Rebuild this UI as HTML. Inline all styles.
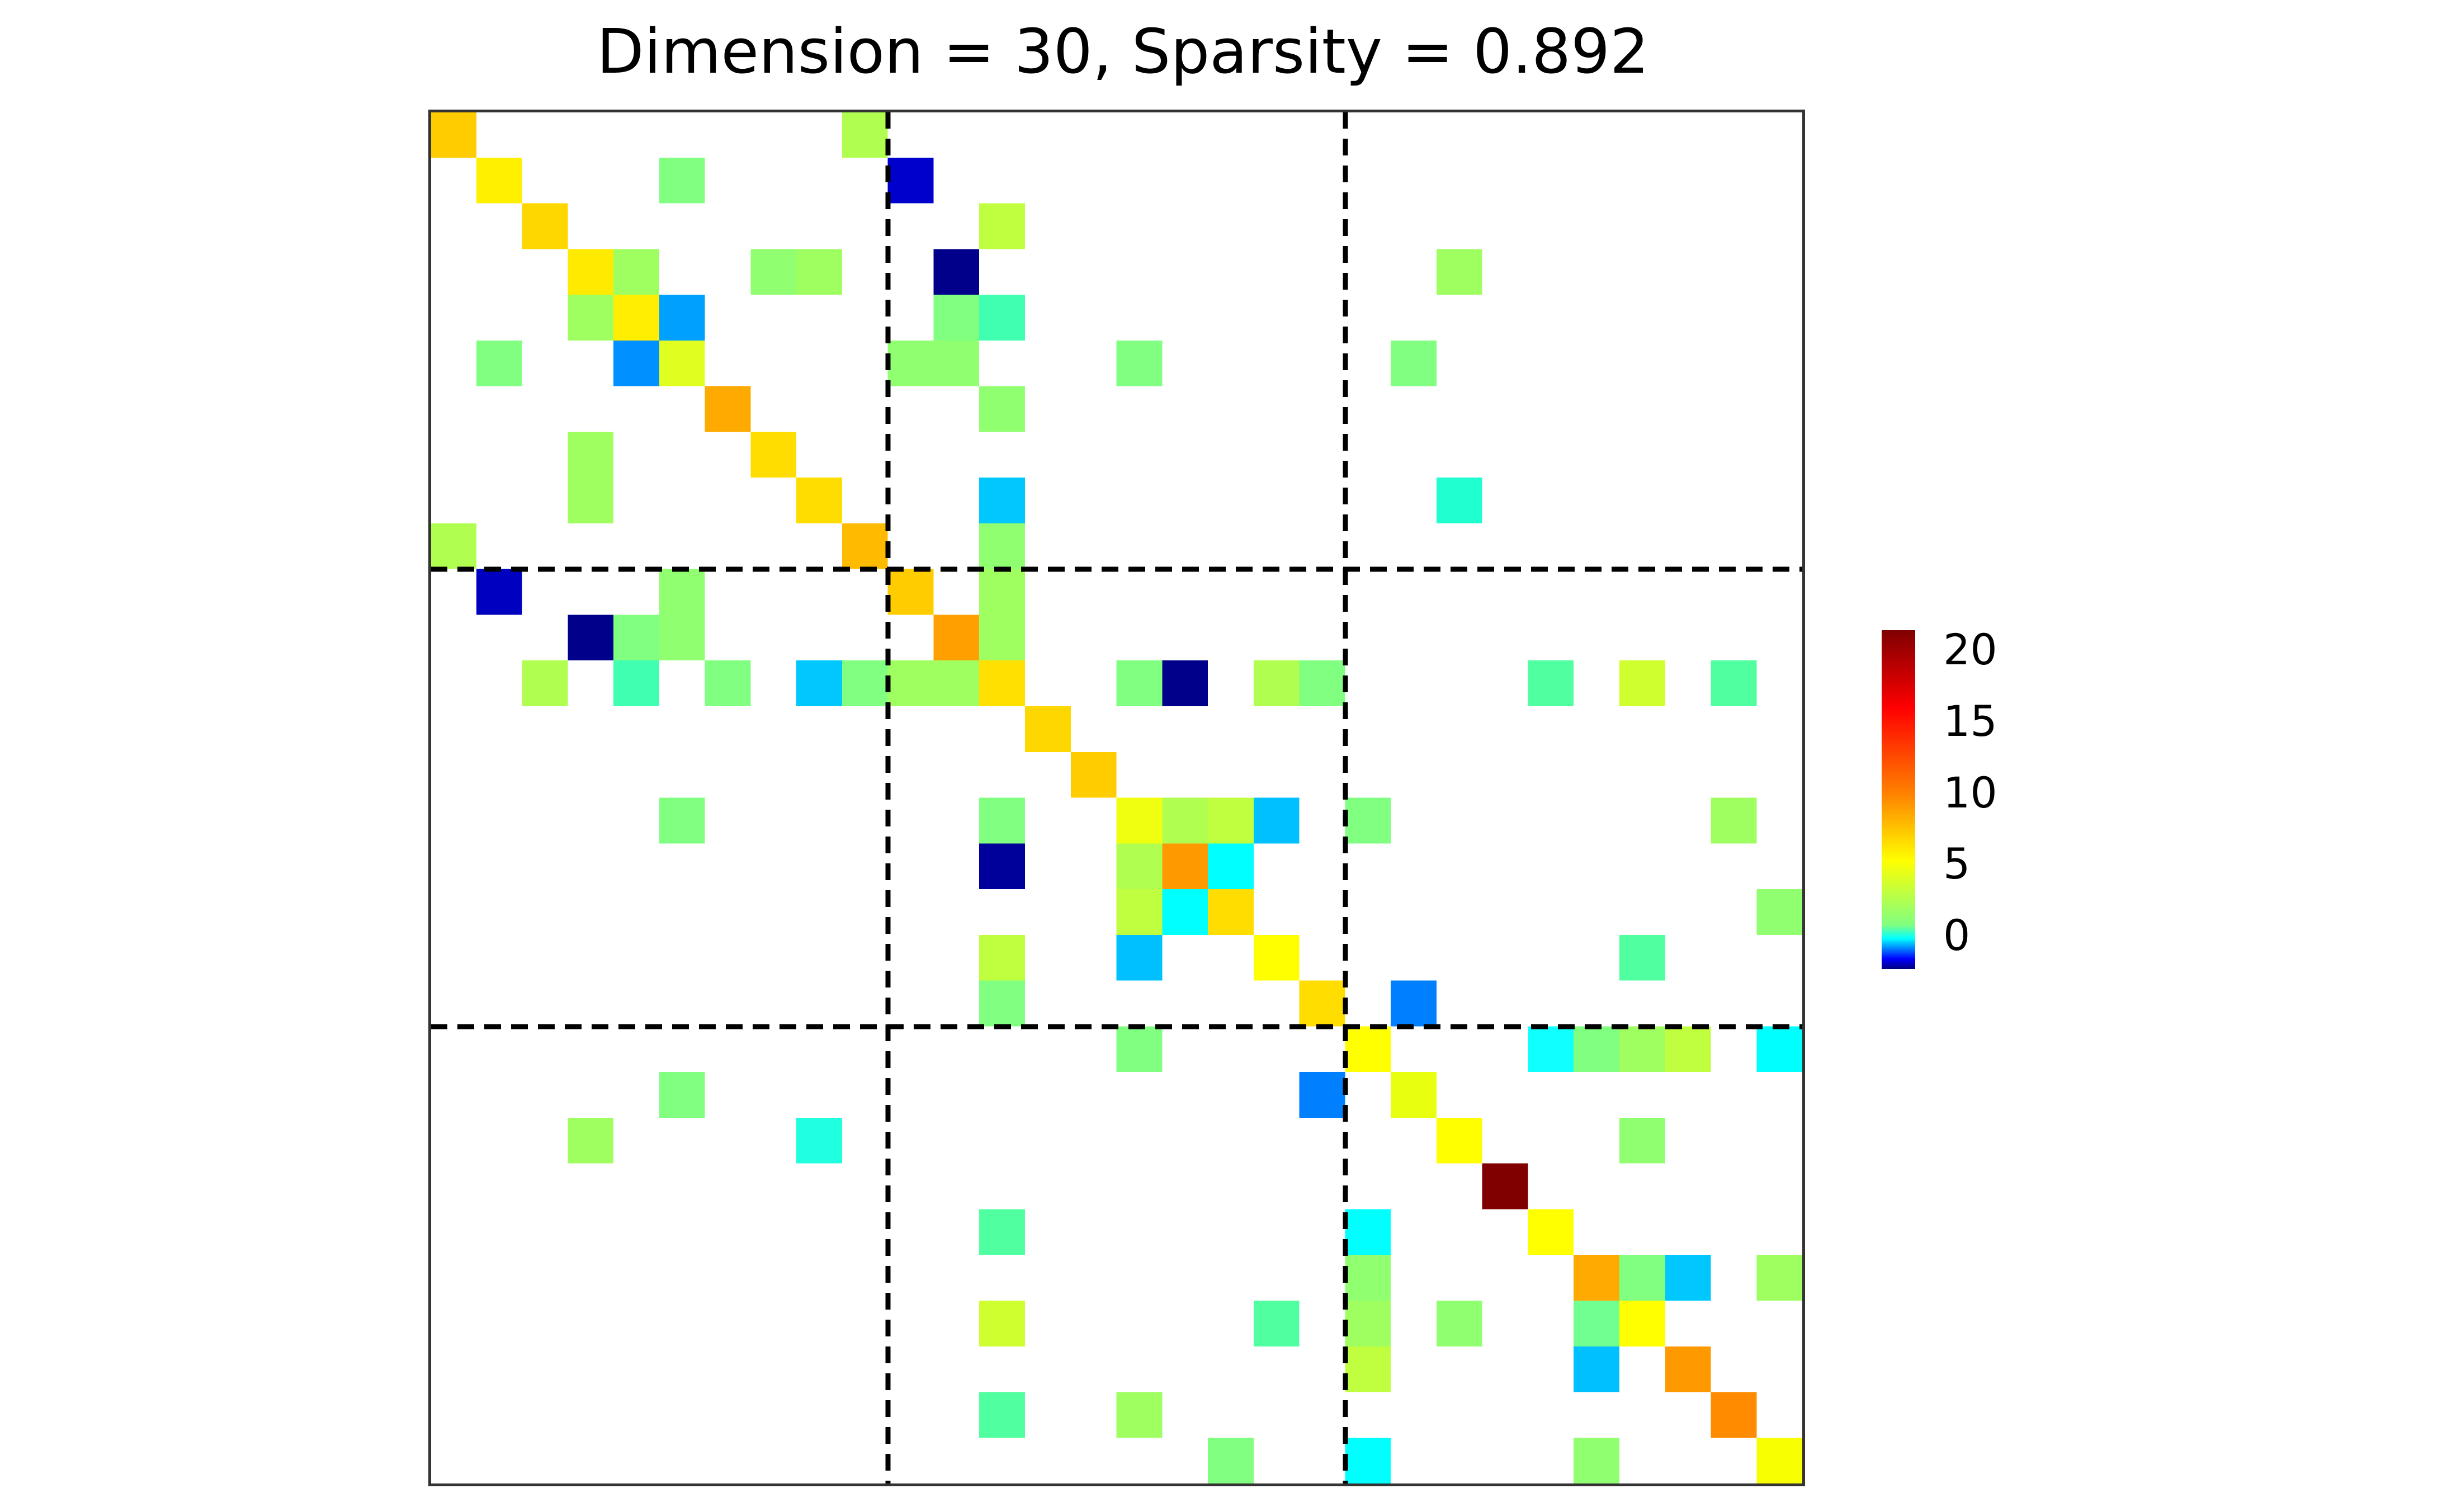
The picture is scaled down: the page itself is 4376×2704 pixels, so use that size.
<!DOCTYPE html>
<html><head><meta charset="utf-8"><style>html,body{margin:0;padding:0;background:#fff}svg{display:block}</style></head>
<body>
<svg xmlns="http://www.w3.org/2000/svg" width="4376" height="2704" viewBox="0 0 4376 2704">
<rect width="4376" height="2704" fill="#fff"/>
<text x="2008" y="130" font-family="DejaVu Sans, Liberation Sans, sans-serif" font-size="110" text-anchor="middle" fill="#000">Dimension = 30, Sparsity = 0.892</text>
<g transform="translate(770,200) scale(81.77)" shape-rendering="crispEdges">
<rect x="0" y="0" width="1" height="1" fill="#ffcc00"/><rect x="9" y="0" width="1" height="1" fill="#b0ff50"/>
<rect x="1" y="1" width="1" height="1" fill="#fff000"/><rect x="5" y="1" width="1" height="1" fill="#80ff80"/><rect x="10" y="1" width="1" height="1" fill="#0000cc"/>
<rect x="2" y="2" width="1" height="1" fill="#ffd700"/><rect x="12" y="2" width="1" height="1" fill="#c0ff40"/>
<rect x="3" y="3" width="1" height="1" fill="#ffea00"/><rect x="4" y="3" width="1" height="1" fill="#a0ff60"/><rect x="7" y="3" width="1" height="1" fill="#90ff70"/><rect x="8" y="3" width="1" height="1" fill="#a0ff60"/><rect x="11" y="3" width="1" height="1" fill="#00008b"/><rect x="22" y="3" width="1" height="1" fill="#a0ff60"/>
<rect x="3" y="4" width="1" height="1" fill="#a0ff60"/><rect x="4" y="4" width="1" height="1" fill="#ffee00"/><rect x="5" y="4" width="1" height="1" fill="#00a0ff"/><rect x="11" y="4" width="1" height="1" fill="#80ff80"/><rect x="12" y="4" width="1" height="1" fill="#40ffb0"/>
<rect x="1" y="5" width="1" height="1" fill="#80ff80"/><rect x="4" y="5" width="1" height="1" fill="#0090ff"/><rect x="5" y="5" width="1" height="1" fill="#e0ff20"/><rect x="10" y="5" width="1" height="1" fill="#90ff70"/><rect x="11" y="5" width="1" height="1" fill="#90ff70"/><rect x="15" y="5" width="1" height="1" fill="#80ff80"/><rect x="21" y="5" width="1" height="1" fill="#80ff80"/>
<rect x="6" y="6" width="1" height="1" fill="#ffaa00"/><rect x="12" y="6" width="1" height="1" fill="#90ff70"/>
<rect x="3" y="7" width="1" height="1" fill="#a0ff60"/><rect x="7" y="7" width="1" height="1" fill="#ffdd00"/>
<rect x="3" y="8" width="1" height="1" fill="#a0ff60"/><rect x="8" y="8" width="1" height="1" fill="#ffdd00"/><rect x="12" y="8" width="1" height="1" fill="#00c8ff"/><rect x="22" y="8" width="1" height="1" fill="#20ffd0"/>
<rect x="0" y="9" width="1" height="1" fill="#b0ff50"/><rect x="9" y="9" width="1" height="1" fill="#ffbb00"/><rect x="12" y="9" width="1" height="1" fill="#90ff70"/>
<rect x="1" y="10" width="1" height="1" fill="#0000c0"/><rect x="5" y="10" width="1" height="1" fill="#90ff70"/><rect x="10" y="10" width="1" height="1" fill="#ffcc00"/><rect x="12" y="10" width="1" height="1" fill="#a0ff60"/>
<rect x="3" y="11" width="1" height="1" fill="#00008b"/><rect x="4" y="11" width="1" height="1" fill="#80ff80"/><rect x="5" y="11" width="1" height="1" fill="#90ff70"/><rect x="11" y="11" width="1" height="1" fill="#ffa000"/><rect x="12" y="11" width="1" height="1" fill="#a0ff60"/>
<rect x="2" y="12" width="1" height="1" fill="#b0ff50"/><rect x="4" y="12" width="1" height="1" fill="#40ffb0"/><rect x="6" y="12" width="1" height="1" fill="#80ff80"/><rect x="8" y="12" width="1" height="1" fill="#00c8ff"/><rect x="9" y="12" width="1" height="1" fill="#80ff80"/><rect x="10" y="12" width="1" height="1" fill="#a0ff60"/><rect x="11" y="12" width="1" height="1" fill="#a0ff60"/><rect x="12" y="12" width="1" height="1" fill="#ffe000"/><rect x="15" y="12" width="1" height="1" fill="#80ff80"/><rect x="16" y="12" width="1" height="1" fill="#00008b"/><rect x="18" y="12" width="1" height="1" fill="#b0ff50"/><rect x="19" y="12" width="1" height="1" fill="#80ff80"/><rect x="24" y="12" width="1" height="1" fill="#50ffa0"/><rect x="26" y="12" width="1" height="1" fill="#d0ff30"/><rect x="28" y="12" width="1" height="1" fill="#50ffa0"/>
<rect x="13" y="13" width="1" height="1" fill="#ffd700"/>
<rect x="14" y="14" width="1" height="1" fill="#ffcc00"/>
<rect x="5" y="15" width="1" height="1" fill="#80ff80"/><rect x="12" y="15" width="1" height="1" fill="#80ff80"/><rect x="15" y="15" width="1" height="1" fill="#f0ff10"/><rect x="16" y="15" width="1" height="1" fill="#b0ff50"/><rect x="17" y="15" width="1" height="1" fill="#c0ff40"/><rect x="18" y="15" width="1" height="1" fill="#00c0ff"/><rect x="20" y="15" width="1" height="1" fill="#80ff80"/><rect x="28" y="15" width="1" height="1" fill="#a0ff60"/>
<rect x="12" y="16" width="1" height="1" fill="#00009b"/><rect x="15" y="16" width="1" height="1" fill="#b0ff50"/><rect x="16" y="16" width="1" height="1" fill="#ff9900"/><rect x="17" y="16" width="1" height="1" fill="#00ffff"/>
<rect x="15" y="17" width="1" height="1" fill="#c0ff40"/><rect x="16" y="17" width="1" height="1" fill="#00ffff"/><rect x="17" y="17" width="1" height="1" fill="#ffdd00"/><rect x="29" y="17" width="1" height="1" fill="#90ff70"/>
<rect x="12" y="18" width="1" height="1" fill="#c0ff40"/><rect x="15" y="18" width="1" height="1" fill="#00c0ff"/><rect x="18" y="18" width="1" height="1" fill="#ffff00"/><rect x="26" y="18" width="1" height="1" fill="#50ffa0"/>
<rect x="12" y="19" width="1" height="1" fill="#80ff80"/><rect x="19" y="19" width="1" height="1" fill="#ffdd00"/><rect x="21" y="19" width="1" height="1" fill="#0080ff"/>
<rect x="15" y="20" width="1" height="1" fill="#80ff80"/><rect x="20" y="20" width="1" height="1" fill="#ffff00"/><rect x="24" y="20" width="1" height="1" fill="#10ffff"/><rect x="25" y="20" width="1" height="1" fill="#80ff80"/><rect x="26" y="20" width="1" height="1" fill="#a0ff60"/><rect x="27" y="20" width="1" height="1" fill="#c0ff40"/><rect x="29" y="20" width="1" height="1" fill="#00ffff"/>
<rect x="5" y="21" width="1" height="1" fill="#80ff80"/><rect x="19" y="21" width="1" height="1" fill="#0080ff"/><rect x="21" y="21" width="1" height="1" fill="#e8ff10"/>
<rect x="3" y="22" width="1" height="1" fill="#a0ff60"/><rect x="8" y="22" width="1" height="1" fill="#20ffe0"/><rect x="22" y="22" width="1" height="1" fill="#ffff00"/><rect x="26" y="22" width="1" height="1" fill="#90ff70"/>
<rect x="23" y="23" width="1" height="1" fill="#800000"/>
<rect x="12" y="24" width="1" height="1" fill="#50ffa0"/><rect x="20" y="24" width="1" height="1" fill="#00ffff"/><rect x="24" y="24" width="1" height="1" fill="#ffff00"/>
<rect x="20" y="25" width="1" height="1" fill="#90ff70"/><rect x="25" y="25" width="1" height="1" fill="#ffaa00"/><rect x="26" y="25" width="1" height="1" fill="#80ff80"/><rect x="27" y="25" width="1" height="1" fill="#00c8ff"/><rect x="29" y="25" width="1" height="1" fill="#a0ff60"/>
<rect x="12" y="26" width="1" height="1" fill="#d0ff30"/><rect x="18" y="26" width="1" height="1" fill="#50ffa0"/><rect x="20" y="26" width="1" height="1" fill="#a0ff60"/><rect x="22" y="26" width="1" height="1" fill="#90ff70"/><rect x="25" y="26" width="1" height="1" fill="#70ff90"/><rect x="26" y="26" width="1" height="1" fill="#ffff00"/>
<rect x="20" y="27" width="1" height="1" fill="#c0ff40"/><rect x="25" y="27" width="1" height="1" fill="#00c0ff"/><rect x="27" y="27" width="1" height="1" fill="#ff9900"/>
<rect x="12" y="28" width="1" height="1" fill="#50ffa0"/><rect x="15" y="28" width="1" height="1" fill="#a0ff60"/><rect x="28" y="28" width="1" height="1" fill="#ff8c00"/>
<rect x="17" y="29" width="1" height="1" fill="#80ff80"/><rect x="20" y="29" width="1" height="1" fill="#00ffff"/><rect x="25" y="29" width="1" height="1" fill="#90ff70"/><rect x="29" y="29" width="1" height="1" fill="#f8ff00"/>
</g>
<g stroke="#000" stroke-width="9" stroke-dasharray="30,18" fill="none">
<line x1="1588" y1="200" x2="1588" y2="2653"/>
<line x1="2406" y1="200" x2="2406" y2="2653"/>
<line x1="770" y1="1018" x2="3223" y2="1018"/>
<line x1="770" y1="1836" x2="3223" y2="1836"/>
</g>
<rect x="768.5" y="198.5" width="2457" height="2457" fill="none" stroke="#333" stroke-width="5"/>
<defs>
<linearGradient id="cb" x1="0" y1="1" x2="0" y2="0">
<stop offset="0" stop-color="#00007f"/>
<stop offset="0.03" stop-color="#0000ff"/>
<stop offset="0.09" stop-color="#00ffff"/>
<stop offset="0.13" stop-color="#80ff80"/>
<stop offset="0.32" stop-color="#ffff00"/>
<stop offset="0.52" stop-color="#ff8000"/>
<stop offset="0.77" stop-color="#ff0000"/>
<stop offset="1" stop-color="#7f0000"/>
</linearGradient>
</defs>
<rect x="3365" y="1127" width="60" height="606" fill="url(#cb)"/>
<g font-family="DejaVu Sans, Liberation Sans, sans-serif" font-size="76" fill="#000">
<text x="3475" y="1188">20</text>
<text x="3475" y="1316">15</text>
<text x="3475" y="1444">10</text>
<text x="3475" y="1571">5</text>
<text x="3475" y="1699">0</text>
</g>
</svg>
</body></html>
